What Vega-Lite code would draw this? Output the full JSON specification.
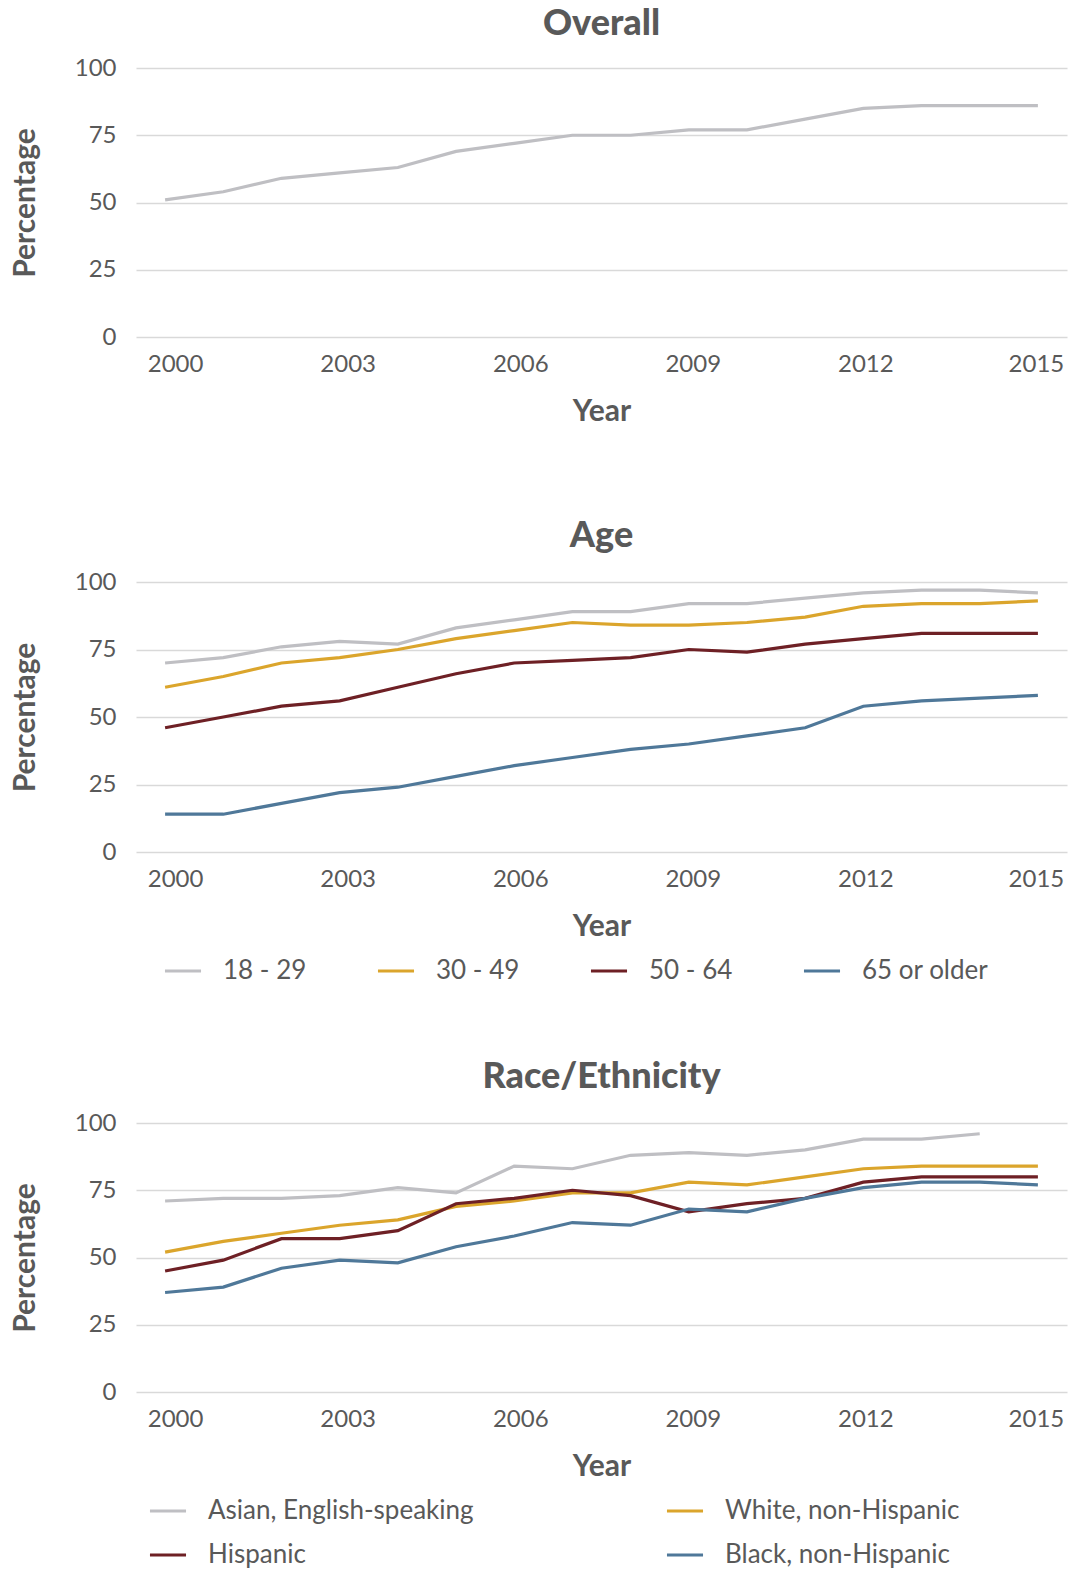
{
  "$schema": "https://vega.github.io/schema/vega-lite/v6.json",
  "background": "white",
  "padding": {"left": 10, "top": 6, "right": 3, "bottom": 3},
  "config": {
    "font": "Lato",
    "view": {"stroke": null},
    "axis": {"labelColor": "#595959", "titleColor": "#595959", "labelFontSize": 24, "titleFontSize": 30, "titleFontWeight": "bold", "domain": false, "ticks": false, "gridColor": "#d9d9d9", "gridWidth": 1.5},
    "axisX": {"labelOffset": {"condition": [{"test": "datum.value == 2000", "value": 10}, {"test": "datum.value == 2003", "value": 8}, {"test": "datum.value == 2006", "value": 6}, {"test": "datum.value == 2009", "value": 4}, {"test": "datum.value == 2012", "value": 2}], "value": -2}},
    "title": {"fontSize": 36, "fontWeight": 900, "color": "#595959", "anchor": "middle", "offset": 15},
    "legend": {"labelColor": "#595959", "labelFontSize": 26, "labelLimit": 500, "symbolType": "stroke", "symbolStrokeWidth": 4, "symbolSize": 1300, "labelOffset": 20, "title": null},
    "line": {"strokeWidth": 3.2}
  },
  "datasets": {
    "overall": [
      {"year": 2000, "value": 51}, {"year": 2001, "value": 54}, {"year": 2002, "value": 59}, {"year": 2003, "value": 61},
      {"year": 2004, "value": 63}, {"year": 2005, "value": 69}, {"year": 2006, "value": 72}, {"year": 2007, "value": 75},
      {"year": 2008, "value": 75}, {"year": 2009, "value": 77}, {"year": 2010, "value": 77}, {"year": 2011, "value": 81},
      {"year": 2012, "value": 85}, {"year": 2013, "value": 86}, {"year": 2014, "value": 86}, {"year": 2015, "value": 86}
    ],
    "age": [
      {"group": "18 - 29", "year": 2000, "value": 70}, {"group": "18 - 29", "year": 2001, "value": 72}, {"group": "18 - 29", "year": 2002, "value": 76}, {"group": "18 - 29", "year": 2003, "value": 78},
      {"group": "18 - 29", "year": 2004, "value": 77}, {"group": "18 - 29", "year": 2005, "value": 83}, {"group": "18 - 29", "year": 2006, "value": 86}, {"group": "18 - 29", "year": 2007, "value": 89},
      {"group": "18 - 29", "year": 2008, "value": 89}, {"group": "18 - 29", "year": 2009, "value": 92}, {"group": "18 - 29", "year": 2010, "value": 92}, {"group": "18 - 29", "year": 2011, "value": 94},
      {"group": "18 - 29", "year": 2012, "value": 96}, {"group": "18 - 29", "year": 2013, "value": 97}, {"group": "18 - 29", "year": 2014, "value": 97}, {"group": "18 - 29", "year": 2015, "value": 96},
      {"group": "30 - 49", "year": 2000, "value": 61}, {"group": "30 - 49", "year": 2001, "value": 65}, {"group": "30 - 49", "year": 2002, "value": 70}, {"group": "30 - 49", "year": 2003, "value": 72},
      {"group": "30 - 49", "year": 2004, "value": 75}, {"group": "30 - 49", "year": 2005, "value": 79}, {"group": "30 - 49", "year": 2006, "value": 82}, {"group": "30 - 49", "year": 2007, "value": 85},
      {"group": "30 - 49", "year": 2008, "value": 84}, {"group": "30 - 49", "year": 2009, "value": 84}, {"group": "30 - 49", "year": 2010, "value": 85}, {"group": "30 - 49", "year": 2011, "value": 87},
      {"group": "30 - 49", "year": 2012, "value": 91}, {"group": "30 - 49", "year": 2013, "value": 92}, {"group": "30 - 49", "year": 2014, "value": 92}, {"group": "30 - 49", "year": 2015, "value": 93},
      {"group": "50 - 64", "year": 2000, "value": 46}, {"group": "50 - 64", "year": 2001, "value": 50}, {"group": "50 - 64", "year": 2002, "value": 54}, {"group": "50 - 64", "year": 2003, "value": 56},
      {"group": "50 - 64", "year": 2004, "value": 61}, {"group": "50 - 64", "year": 2005, "value": 66}, {"group": "50 - 64", "year": 2006, "value": 70}, {"group": "50 - 64", "year": 2007, "value": 71},
      {"group": "50 - 64", "year": 2008, "value": 72}, {"group": "50 - 64", "year": 2009, "value": 75}, {"group": "50 - 64", "year": 2010, "value": 74}, {"group": "50 - 64", "year": 2011, "value": 77},
      {"group": "50 - 64", "year": 2012, "value": 79}, {"group": "50 - 64", "year": 2013, "value": 81}, {"group": "50 - 64", "year": 2014, "value": 81}, {"group": "50 - 64", "year": 2015, "value": 81},
      {"group": "65 or older", "year": 2000, "value": 14}, {"group": "65 or older", "year": 2001, "value": 14}, {"group": "65 or older", "year": 2002, "value": 18}, {"group": "65 or older", "year": 2003, "value": 22},
      {"group": "65 or older", "year": 2004, "value": 24}, {"group": "65 or older", "year": 2005, "value": 28}, {"group": "65 or older", "year": 2006, "value": 32}, {"group": "65 or older", "year": 2007, "value": 35},
      {"group": "65 or older", "year": 2008, "value": 38}, {"group": "65 or older", "year": 2009, "value": 40}, {"group": "65 or older", "year": 2010, "value": 43}, {"group": "65 or older", "year": 2011, "value": 46},
      {"group": "65 or older", "year": 2012, "value": 54}, {"group": "65 or older", "year": 2013, "value": 56}, {"group": "65 or older", "year": 2014, "value": 57}, {"group": "65 or older", "year": 2015, "value": 58}
    ],
    "race": [
      {"group": "Asian, English-speaking", "year": 2000, "value": 71}, {"group": "Asian, English-speaking", "year": 2001, "value": 72}, {"group": "Asian, English-speaking", "year": 2002, "value": 72}, {"group": "Asian, English-speaking", "year": 2003, "value": 73},
      {"group": "Asian, English-speaking", "year": 2004, "value": 76}, {"group": "Asian, English-speaking", "year": 2005, "value": 74}, {"group": "Asian, English-speaking", "year": 2006, "value": 84}, {"group": "Asian, English-speaking", "year": 2007, "value": 83},
      {"group": "Asian, English-speaking", "year": 2008, "value": 88}, {"group": "Asian, English-speaking", "year": 2009, "value": 89}, {"group": "Asian, English-speaking", "year": 2010, "value": 88}, {"group": "Asian, English-speaking", "year": 2011, "value": 90},
      {"group": "Asian, English-speaking", "year": 2012, "value": 94}, {"group": "Asian, English-speaking", "year": 2013, "value": 94}, {"group": "Asian, English-speaking", "year": 2014, "value": 96},
      {"group": "White, non-Hispanic", "year": 2000, "value": 52}, {"group": "White, non-Hispanic", "year": 2001, "value": 56}, {"group": "White, non-Hispanic", "year": 2002, "value": 59}, {"group": "White, non-Hispanic", "year": 2003, "value": 62},
      {"group": "White, non-Hispanic", "year": 2004, "value": 64}, {"group": "White, non-Hispanic", "year": 2005, "value": 69}, {"group": "White, non-Hispanic", "year": 2006, "value": 71}, {"group": "White, non-Hispanic", "year": 2007, "value": 74},
      {"group": "White, non-Hispanic", "year": 2008, "value": 74}, {"group": "White, non-Hispanic", "year": 2009, "value": 78}, {"group": "White, non-Hispanic", "year": 2010, "value": 77}, {"group": "White, non-Hispanic", "year": 2011, "value": 80},
      {"group": "White, non-Hispanic", "year": 2012, "value": 83}, {"group": "White, non-Hispanic", "year": 2013, "value": 84}, {"group": "White, non-Hispanic", "year": 2014, "value": 84}, {"group": "White, non-Hispanic", "year": 2015, "value": 84},
      {"group": "Hispanic", "year": 2000, "value": 45}, {"group": "Hispanic", "year": 2001, "value": 49}, {"group": "Hispanic", "year": 2002, "value": 57}, {"group": "Hispanic", "year": 2003, "value": 57},
      {"group": "Hispanic", "year": 2004, "value": 60}, {"group": "Hispanic", "year": 2005, "value": 70}, {"group": "Hispanic", "year": 2006, "value": 72}, {"group": "Hispanic", "year": 2007, "value": 75},
      {"group": "Hispanic", "year": 2008, "value": 73}, {"group": "Hispanic", "year": 2009, "value": 67}, {"group": "Hispanic", "year": 2010, "value": 70}, {"group": "Hispanic", "year": 2011, "value": 72},
      {"group": "Hispanic", "year": 2012, "value": 78}, {"group": "Hispanic", "year": 2013, "value": 80}, {"group": "Hispanic", "year": 2014, "value": 80}, {"group": "Hispanic", "year": 2015, "value": 80},
      {"group": "Black, non-Hispanic", "year": 2000, "value": 37}, {"group": "Black, non-Hispanic", "year": 2001, "value": 39}, {"group": "Black, non-Hispanic", "year": 2002, "value": 46}, {"group": "Black, non-Hispanic", "year": 2003, "value": 49},
      {"group": "Black, non-Hispanic", "year": 2004, "value": 48}, {"group": "Black, non-Hispanic", "year": 2005, "value": 54}, {"group": "Black, non-Hispanic", "year": 2006, "value": 58}, {"group": "Black, non-Hispanic", "year": 2007, "value": 63},
      {"group": "Black, non-Hispanic", "year": 2008, "value": 62}, {"group": "Black, non-Hispanic", "year": 2009, "value": 68}, {"group": "Black, non-Hispanic", "year": 2010, "value": 67}, {"group": "Black, non-Hispanic", "year": 2011, "value": 72},
      {"group": "Black, non-Hispanic", "year": 2012, "value": 76}, {"group": "Black, non-Hispanic", "year": 2013, "value": 78}, {"group": "Black, non-Hispanic", "year": 2014, "value": 78}, {"group": "Black, non-Hispanic", "year": 2015, "value": 77}
    ]
  },
  "vconcat": [
    {
      "vconcat": [
        {
          "title": {"text": "Overall", "offset": 13},
          "width": 931,
          "height": 269,
          "data": {"name": "overall"},
          "mark": {"type": "line", "color": "#BFBFC3"},
          "encoding": {
            "x": {"field": "year", "type": "quantitative", "scale": {"domain": [1999.5, 2015.5], "nice": false, "zero": false}, "axis": {"values": [2000, 2003, 2006, 2009, 2012, 2015], "format": "d", "grid": false, "labelPadding": 15, "title": "Year", "titlePadding": 20}},
            "y": {"field": "value", "type": "quantitative", "scale": {"domain": [0, 100], "nice": false}, "axis": {"values": [0, 25, 50, 75, 100], "labelPadding": 20, "title": "Percentage", "titlePadding": 34}}
          }
        },
        {
          "title": "Age",
          "width": 931,
          "height": 270,
          "data": {"name": "age"},
          "mark": {"type": "line"},
          "encoding": {
            "x": {"field": "year", "type": "quantitative", "scale": {"domain": [1999.5, 2015.5], "nice": false, "zero": false}, "axis": {"values": [2000, 2003, 2006, 2009, 2012, 2015], "format": "d", "grid": false, "labelPadding": 15, "title": "Year", "titlePadding": 20}},
            "y": {"field": "value", "type": "quantitative", "scale": {"domain": [0, 100], "nice": false}, "axis": {"values": [0, 25, 50, 75, 100], "labelPadding": 20, "title": "Percentage", "titlePadding": 34}},
            "color": {"field": "group", "type": "nominal", "scale": {"domain": ["18 - 29", "30 - 49", "50 - 64", "65 or older"], "range": ["#BFBFC3", "#DBA52C", "#6E2025", "#4F7899"]},
              "legend": {"orient": "none", "direction": "horizontal", "legendX": 27, "legendY": 369, "columnPadding": 64}}
          }
        }
      ],
      "spacing": 92,
      "resolve": {"scale": {"color": "independent"}, "legend": {"color": "independent"}}
    },
    {
      "title": "Race/Ethnicity",
      "width": 931,
      "height": 269,
      "data": {"name": "race"},
      "mark": {"type": "line"},
      "encoding": {
        "x": {"field": "year", "type": "quantitative", "scale": {"domain": [1999.5, 2015.5], "nice": false, "zero": false}, "axis": {"values": [2000, 2003, 2006, 2009, 2012, 2015], "format": "d", "grid": false, "labelPadding": 15, "title": "Year", "titlePadding": 20}},
        "y": {"field": "value", "type": "quantitative", "scale": {"domain": [0, 100], "nice": false}, "axis": {"values": [0, 25, 50, 75, 100], "labelPadding": 20, "title": "Percentage", "titlePadding": 34}},
        "color": {"field": "group", "type": "nominal", "sort": null, "scale": {"domain": ["Asian, English-speaking", "White, non-Hispanic", "Hispanic", "Black, non-Hispanic"], "range": ["#BFBFC3", "#DBA52C", "#6E2025", "#4F7899"]},
          "legend": {"orient": "none", "direction": "horizontal", "columns": 2, "legendX": 12, "legendY": 368, "columnPadding": 186, "rowPadding": 11}}
      }
    }
  ],
  "spacing": 75,
  "resolve": {"scale": {"color": "independent"}, "legend": {"color": "independent"}}
}
